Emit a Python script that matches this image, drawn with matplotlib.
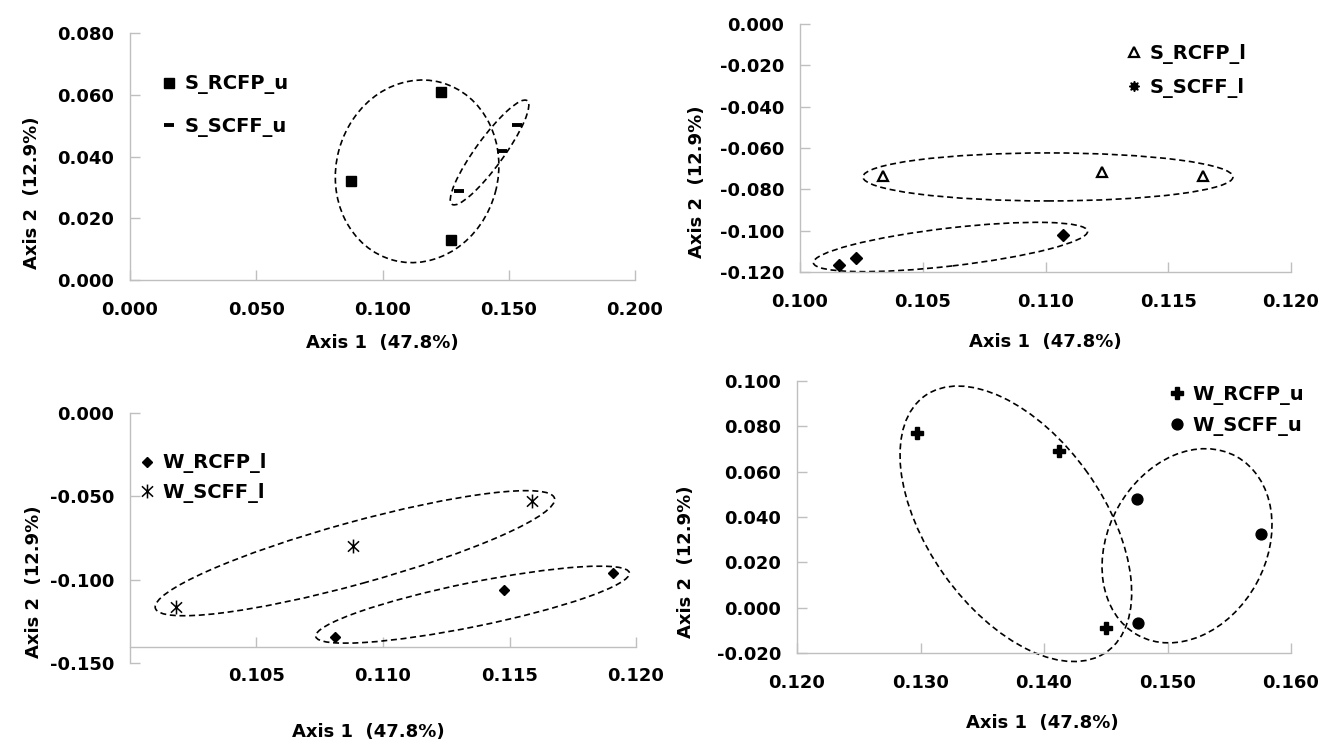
import matplotlib
matplotlib.use('Agg')
import matplotlib.pyplot as plt
from matplotlib.patches import Ellipse
from matplotlib.transforms import ScaledTranslation
from matplotlib.path import Path
from matplotlib.lines import Line2D

W, H, DPI = 1325, 746, 100

# ---------------- data ----------------
s_rcfp_u_x = [0.0876, 0.1233, 0.1270]
s_rcfp_u_y = [0.0322, 0.0608, 0.0130]
s_scff_u_x = [0.1304, 0.1474, 0.1531]
s_scff_u_y = [0.0288, 0.0418, 0.0503]

s_rcfp_l_x = [0.1034, 0.1123, 0.1164]
s_rcfp_l_y = [-0.0736, -0.0715, -0.0736]
s_scff_l_x = [0.1016, 0.1023, 0.1107]
s_scff_l_y = [-0.1168, -0.1132, -0.1019]

w_rcfp_l_x = [0.1081, 0.1148, 0.1191]
w_rcfp_l_y = [-0.1344, -0.1061, -0.0961]
w_scff_l_x = [0.1018, 0.1088, 0.1159]
w_scff_l_y = [-0.1165, -0.0798, -0.0527]

w_rcfp_u_x = [0.1297, 0.1412, 0.1450]
w_rcfp_u_y = [0.0771, 0.0690, -0.0088]
w_scff_u_x = [0.1475, 0.1576, 0.1476]
w_scff_u_y = [0.0479, 0.0327, -0.0069]

# tick values / labels
p1_xticks = [0.000, 0.050, 0.100, 0.150, 0.200]
p1_yticks = [0.000, 0.020, 0.040, 0.060, 0.080]
p2_xticks = [0.100, 0.105, 0.110, 0.115, 0.120]
p2_yticks = [-0.120, -0.100, -0.080, -0.060, -0.040, -0.020, 0.000]
p3_xticks = [0.105, 0.110, 0.115, 0.120]
p3_yticks = [-0.150, -0.100, -0.050, 0.000]
p4_xticks = [0.120, 0.130, 0.140, 0.150, 0.160]
p4_yticks = [-0.020, 0.000, 0.020, 0.040, 0.060, 0.080, 0.100]

xlabel_text = "Axis 1  (47.8%)"
ylabel_text = "Axis 2  (12.9%)"

# cluster outlines: (center x, center y, semi-major px, semi-minor px, angle deg)
p1_ellipses = [(0.1137, 0.0352, 92, 81, 75), (0.1424, 0.0413, 64, 14, 54)]
p2_ellipses = [(0.1101, -0.0740, 185, 24, 0), (0.10613, -0.1079, 138, 19, 6.6)]
p3_ellipses = [(0.10889, -0.0841, 207, 31, 15.4), (0.11354, -0.1149, 160, 22, 11.5)]
p4_ellipses = [(0.13772, 0.0370, 157, 88, 125.4), (0.15158, 0.0273, 102, 79, 61)]

plt.rcParams['font.family'] = ['DejaVu Sans']
plt.rcParams['font.weight'] = 'bold'

fig = plt.figure(figsize=(W / DPI, H / DPI), dpi=DPI)
fig.patch.set_facecolor('white')

GRAY = '#BFBFBF'


def fmt(v):
    s = f"{v:.3f}"
    if s == "-0.000":
        s = "0.000"
    return s


def make_ax(l, r, t, b, xlim, ylim, xticks, yticks):
    ax = fig.add_axes([l / W, 1 - b / H, (r - l) / W, (b - t) / H])
    ax.set_xlim(*xlim)
    ax.set_ylim(*ylim)
    for s in ('top', 'right'):
        ax.spines[s].set_visible(False)
    for s in ('left', 'bottom'):
        ax.spines[s].set_color(GRAY)
        ax.spines[s].set_linewidth(1.0)
    ax.set_xticks(xticks)
    ax.set_xticklabels([fmt(v) for v in xticks])
    ax.set_yticks(yticks)
    ax.set_yticklabels([fmt(v) for v in yticks])
    ax.tick_params(axis='both', direction='in', length=7, width=1.0, color=GRAY,
                   labelsize=13, labelcolor='black')
    ax.tick_params(axis='x', pad=15)
    ax.tick_params(axis='y', pad=11.5)
    for lab in ax.get_xticklabels() + ax.get_yticklabels():
        lab.set_fontweight('bold')
    ax.patch.set_alpha(0)
    return ax


def label_axes(ax, l, r, t, b, xl, yl):
    # xl, yl: pixel positions of label centres
    ax.set_xlabel(xlabel_text, fontsize=13, fontweight='bold')
    ax.set_ylabel(ylabel_text, fontsize=13, fontweight='bold')
    ax.xaxis.set_label_coords((xl[0] - l) / (r - l), (b - xl[1]) / (b - t))
    ax.yaxis.set_label_coords((yl[0] - l) / (r - l), (b - yl[1]) / (b - t))
    ax.xaxis.label.set_va('center')
    ax.yaxis.label.set_va('center')


def draw_ellipses(ax, ells):
    for cx, cy, a, bb, ang in ells:
        tr = fig.dpi_scale_trans + ScaledTranslation(cx, cy, ax.transData)
        e = Ellipse((0, 0), 2 * a / DPI, 2 * bb / DPI, angle=ang, transform=tr,
                    fill=False, edgecolor='black', linewidth=1.2,
                    linestyle=(0, (3.6, 2.2)), clip_on=False, zorder=2)
        ax.add_patch(e)


def legend(ax, handles, labels, mx, my, spacing):
    ax.legend(handles, labels, loc='center left',
              bbox_to_anchor=((mx - 7.8) / W, 1 - my / H), bbox_transform=fig.transFigure,
              frameon=False, borderpad=0, borderaxespad=0, handlelength=0.8,
              handletextpad=0.4, labelspacing=spacing, numpoints=1,
              prop={'size': 14, 'weight': 'bold'})


# ---------------- panel 1 ----------------
L, R, T, B = 130, 635, 33, 280
ax1 = make_ax(L, R, T, B, (0.0, 0.2), (0.0, 0.08), p1_xticks, p1_yticks)
h1, = ax1.plot(s_rcfp_u_x, s_rcfp_u_y, ls='none', marker='s', ms=7, color='black', zorder=3)
h2, = ax1.plot(s_scff_u_x, s_scff_u_y, ls='none', marker='_', ms=6.5, mew=2.8, color='black', zorder=3)
draw_ellipses(ax1, p1_ellipses)
label_axes(ax1, L, R, T, B, (382, 343), (32, 193))
legend(ax1, [h1, h2], ['S_RCFP_u', 'S_SCFF_u'], 169, 105.5, 1.15)

# ---------------- panel 2 ----------------
L, R, T, B = 800, 1291, 24, 272
ax2 = make_ax(L, R, T, B, (0.1, 0.12), (-0.12, 0.0), p2_xticks, p2_yticks)
h1, = ax2.plot(s_rcfp_l_x, s_rcfp_l_y, ls='none', marker='^', ms=6.5, mfc='white',
               mec='black', mew=1.6, zorder=3)
ax2.plot(s_scff_l_x, s_scff_l_y, ls='none', marker='D', ms=6.3, color='black', zorder=3)
h2 = Line2D([], [], ls='none', marker=(8, 1, 0), ms=7.5, color='black')
draw_ellipses(ax2, p2_ellipses)
label_axes(ax2, L, R, T, B, (1045, 342), (697, 182))
legend(ax2, [h1, h2], ['S_RCFP_l', 'S_SCFF_l'], 1134, 71, 0.69)

# ---------------- panel 3 ----------------
L, R, T, B = 130, 636, 412.7, 663.3
ax3 = make_ax(L, R, T, B, (0.1, 0.12), (-0.15, 0.0), p3_xticks, p3_yticks)
ax3.spines['bottom'].set_position(('data', -0.14))
ast = Path([(0, -1), (0, 1), (-0.8, -0.75), (0.8, 0.75), (-0.8, 0.75), (0.8, -0.75)],
           [Path.MOVETO, Path.LINETO, Path.MOVETO, Path.LINETO, Path.MOVETO, Path.LINETO])
h1, = ax3.plot(w_rcfp_l_x, w_rcfp_l_y, ls='none', marker='D', ms=5, color='black', zorder=3)
h2, = ax3.plot(w_scff_l_x, w_scff_l_y, ls='none', marker=ast, ms=10, mfc='none',
               mec='black', mew=1.1, zorder=3)
draw_ellipses(ax3, p3_ellipses)
label_axes(ax3, L, R, T, B, (368, 732), (34, 582))
legend(ax3, [h1, h2], ['W_RCFP_l', 'W_SCFF_l'], 147, 478, 0.48)

# ---------------- panel 4 ----------------
L, R, T, B = 797, 1291, 381, 653
ax4 = make_ax(L, R, T, B, (0.12, 0.16), (-0.02, 0.1), p4_xticks, p4_yticks)
h1, = ax4.plot(w_rcfp_u_x, w_rcfp_u_y, ls='none', marker='P', ms=8.5, color='black', zorder=3)
h2, = ax4.plot(w_scff_u_x, w_scff_u_y, ls='none', marker='o', ms=7.8, color='black', zorder=3)
draw_ellipses(ax4, p4_ellipses)
label_axes(ax4, L, R, T, B, (1042, 723), (686, 562))
legend(ax4, [h1, h2], ['W_RCFP_u', 'W_SCFF_u'], 1177, 410.5, 0.54)

fig.savefig('out.png', dpi=DPI, facecolor='white')
